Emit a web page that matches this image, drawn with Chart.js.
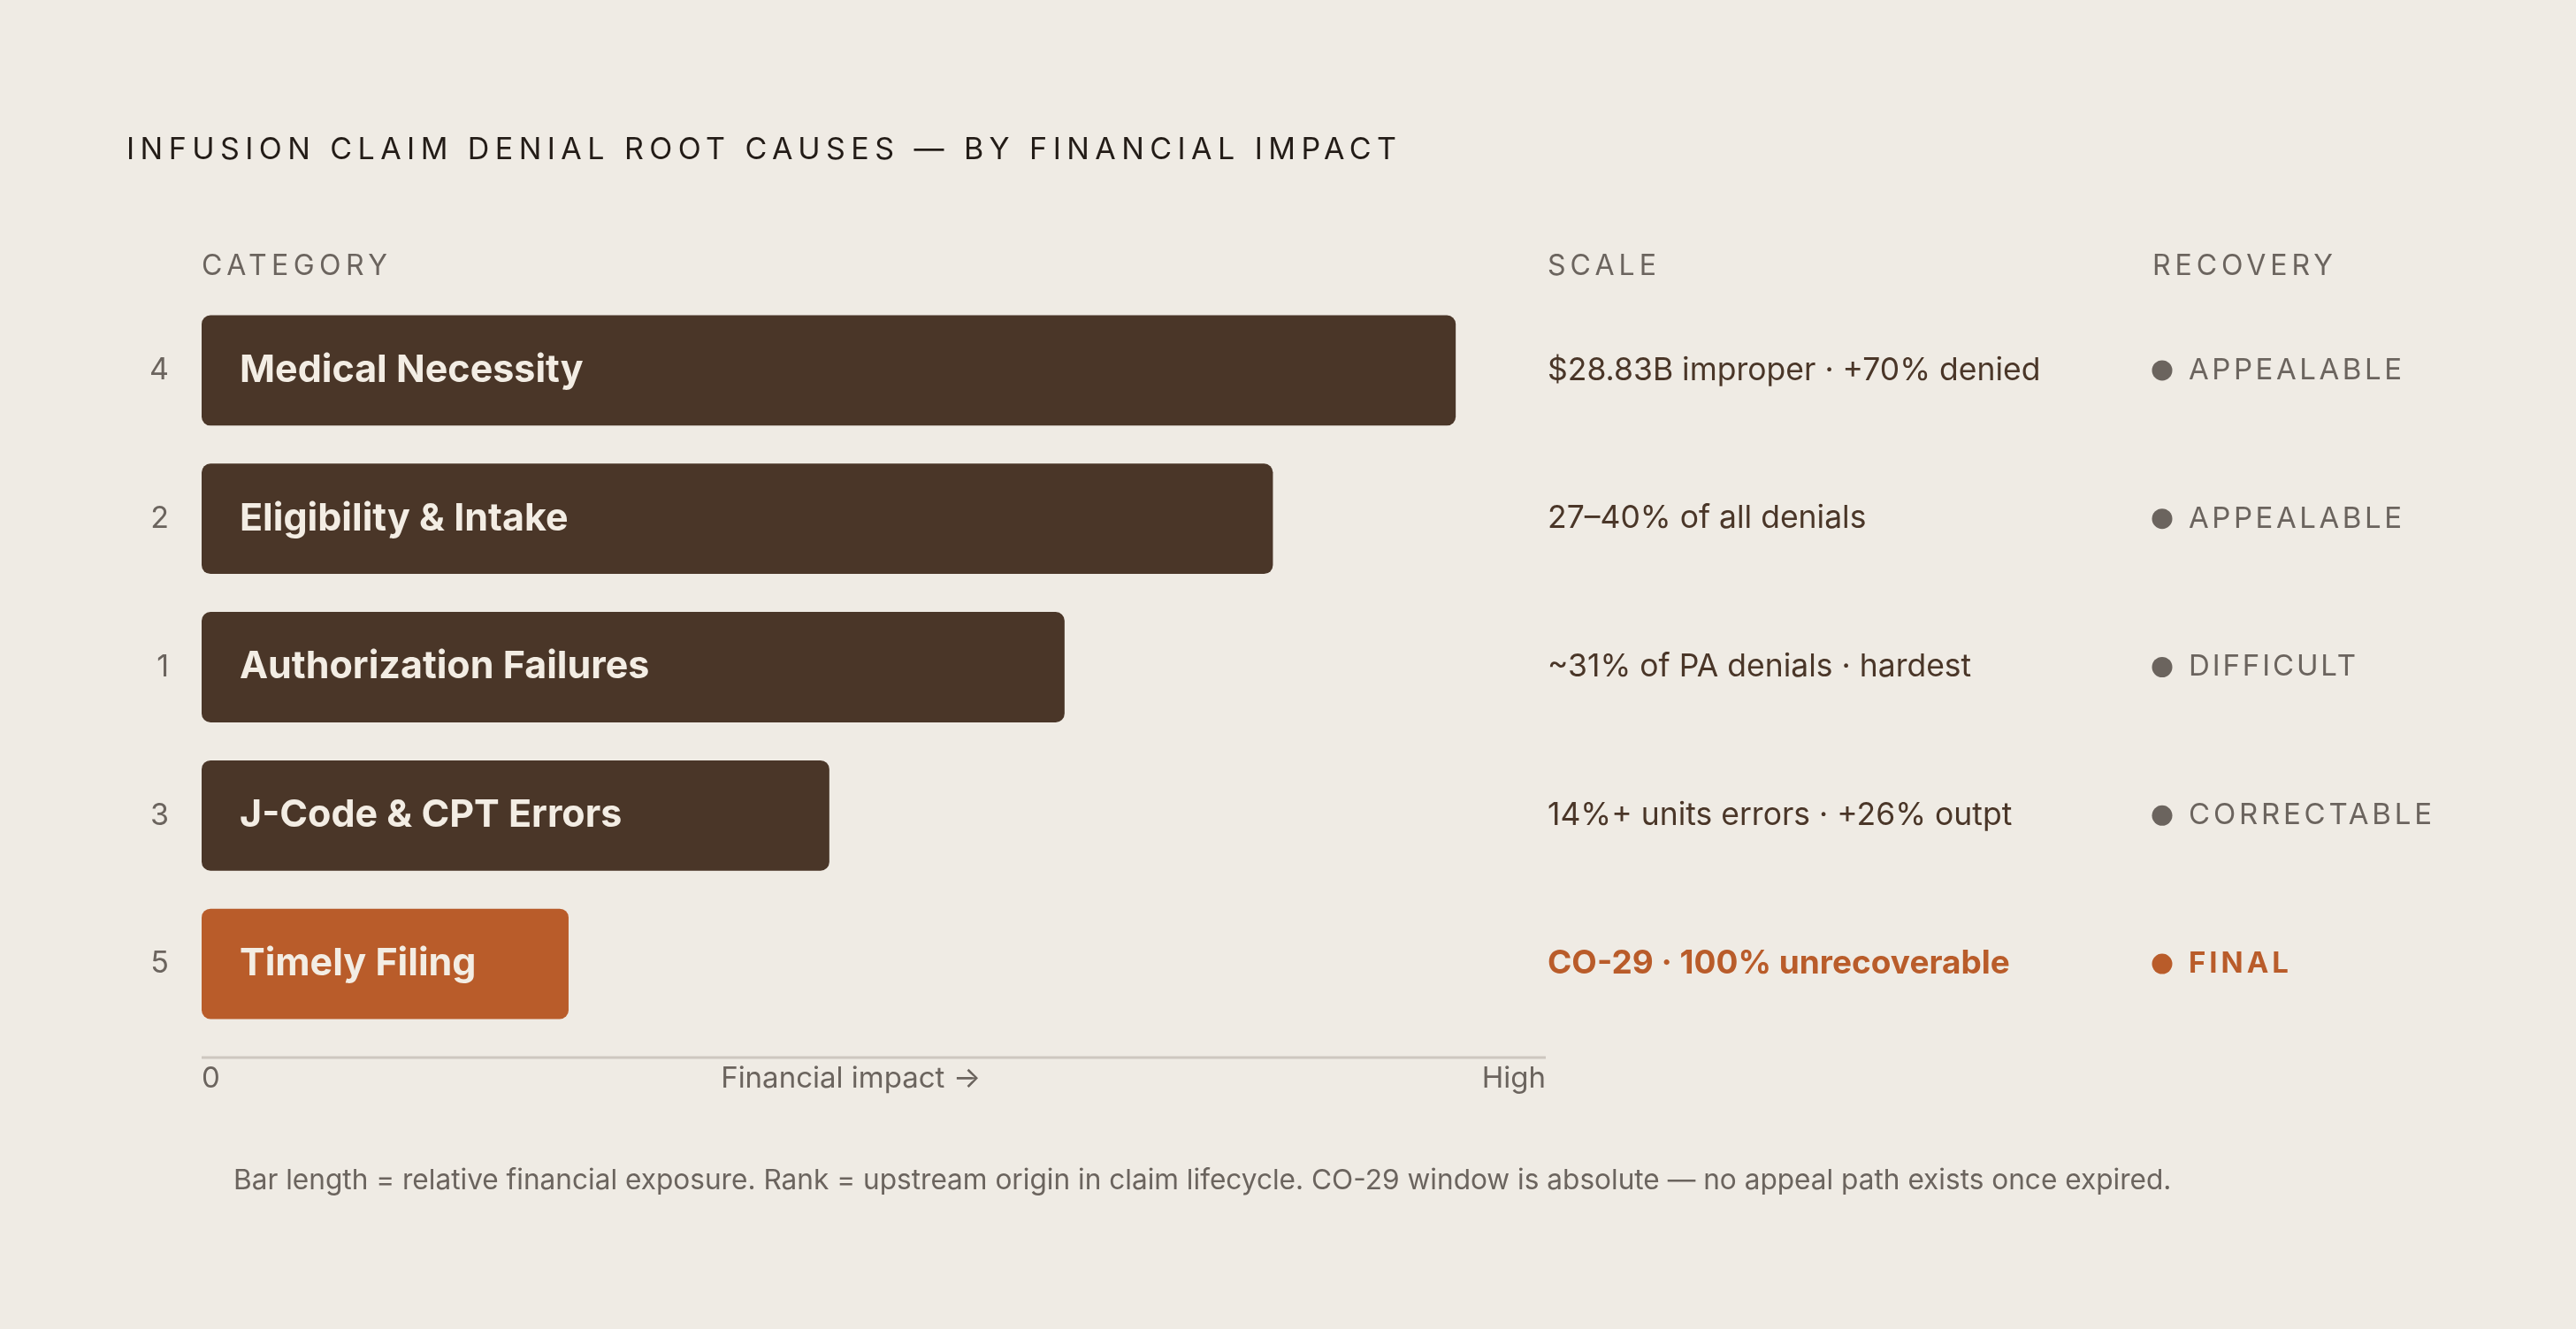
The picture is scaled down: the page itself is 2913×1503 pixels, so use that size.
<!DOCTYPE html>
<html>
<head>
<meta charset="utf-8">
<script src="https://cdn.jsdelivr.net/npm/chart.js@4.4.1/dist/chart.umd.min.js"></script>
<style>
  html, body { margin: 0; padding: 0; background: #efebe4; }
  canvas { display: block; background: #efebe4; }
</style>
</head>
<body>
<canvas id="c" width="2913" height="1503"></canvas>
<script>
// ---- data ----
const categories = ['Medical Necessity', 'Eligibility & Intake', 'Authorization Failures', 'J-Code & CPT Errors', 'Timely Filing'];
const ranks = [4, 2, 1, 3, 5];
const impact = [93.3, 79.7, 64.2, 46.7, 27.3];
const scaleNotes = ['$28.83B improper \u00b7 +70% denied', '27\u201340% of all denials', '~31% of PA denials \u00b7 hardest', '14%+ units errors \u00b7 +26% outpt', 'CO-29 \u00b7 100% unrecoverable'];
const recovery = ['APPEALABLE', 'APPEALABLE', 'DIFFICULT', 'CORRECTABLE', 'FINAL'];
const axisLabels = ['0', 'Financial impact \u2192', 'High'];
const titleText = 'INFUSION CLAIM DENIAL ROOT CAUSES \u2014 BY FINANCIAL IMPACT';
const headers = ['CATEGORY', 'SCALE', 'RECOVERY'];
const footnote = 'Bar length = relative financial exposure. Rank = upstream origin in claim lifecycle. CO-29 window is absolute \u2014 no appeal path exists once expired.';

const DARK = '#4a3628';
const ORANGE = '#b95c2a';
const GREY = '#6b645e';
const FONT = 'Inter, "Open Sans", sans-serif';

function isFinal(i) { return recovery[i] === 'FINAL'; }

function spaced(ctx, text, x, y, target) {
  ctx.letterSpacing = '0px';
  const w = ctx.measureText(text).width;
  const n = [...text].length;
  const sp = Math.max(0, (target - w) / Math.max(1, n - 1));
  ctx.letterSpacing = sp + 'px';
  ctx.fillText(text, x, y);
  ctx.letterSpacing = '0px';
}

const overlay = {
  id: 'overlay',
  afterDatasetsDraw(chart) {
    const ctx = chart.ctx;
    const xs = chart.scales.x, ys = chart.scales.y;
    const meta = chart.getDatasetMeta(0);
    ctx.save();
    ctx.textBaseline = 'middle';
    ctx.textAlign = 'left';

    // title
    ctx.fillStyle = '#231c17';
    ctx.font = '400 34px ' + FONT;
    spaced(ctx, titleText, 143, 170, 1436);

    // headers
    ctx.fillStyle = GREY;
    ctx.font = '400 32px ' + FONT;
    spaced(ctx, headers[0], 228, 301, 210);
    spaced(ctx, headers[1], 1750, 301, 123);
    spaced(ctx, headers[2], 2434, 301, 204);

    const recWidths = { 'APPEALABLE': 241, 'DIFFICULT': 189, 'CORRECTABLE': 275, 'FINAL': 113 };

    categories.forEach((cat, i) => {
      const y = ys.getPixelForValue(i);
      const bar = meta.data[i];
      // rank
      ctx.fillStyle = GREY;
      ctx.font = '400 34px ' + FONT;
      ctx.textAlign = 'right';
      ctx.fillText(String(ranks[i]), 191, y);
      // bar label
      ctx.textAlign = 'left';
      ctx.fillStyle = '#f3ede4';
      ctx.font = '700 43px ' + FONT;
      ctx.fillText(cat, bar.base + 43, y);
      // scale note
      ctx.fillStyle = isFinal(i) ? ORANGE : DARK;
      ctx.font = isFinal(i) ? '700 37px ' + FONT : '400 35.5px ' + FONT;
      ctx.fillText(scaleNotes[i], 1750, y);
      // recovery dot + label
      const col = isFinal(i) ? ORANGE : GREY;
      ctx.fillStyle = col;
      ctx.beginPath();
      ctx.arc(2445, y, 11.5, 0, Math.PI * 2);
      ctx.fill();
      ctx.font = (isFinal(i) ? '700 ' : '400 ') + '33px ' + FONT;
      spaced(ctx, recovery[i], 2475, y, recWidths[recovery[i]]);
    });

    // axis line
    const axisY = chart.chartArea.bottom + 22;
    ctx.strokeStyle = '#cdc7bf';
    ctx.lineWidth = 3;
    ctx.beginPath();
    ctx.moveTo(xs.left, axisY);
    ctx.lineTo(xs.right, axisY);
    ctx.stroke();

    ctx.fillStyle = GREY;
    ctx.font = '400 33px ' + FONT;
    const labY = axisY + 24;
    ctx.textAlign = 'left';
    ctx.fillText(axisLabels[0], xs.getPixelForValue(0), labY);
    ctx.textAlign = 'center';
    ctx.fillText(axisLabels[1], xs.getPixelForValue(48.3), labY);
    ctx.textAlign = 'right';
    ctx.fillText(axisLabels[2], xs.getPixelForValue(100), labY);

    // footnote
    ctx.textAlign = 'left';
    ctx.font = '400 31.6px ' + FONT;
    ctx.fillText(footnote, 264, 1335);
    ctx.restore();
  }
};

new Chart(document.getElementById('c'), {
  type: 'bar',
  data: {
    labels: categories,
    datasets: [{
      data: impact,
      backgroundColor: (c) => isFinal(c.dataIndex) ? ORANGE : DARK,
      borderRadius: 10,
      borderSkipped: false,
      categoryPercentage: 1,
      barPercentage: 0.744
    }]
  },
  options: {
    indexAxis: 'y',
    responsive: false,
    animation: false,
    devicePixelRatio: 1,
    layout: { padding: { left: 228, right: 1165, top: 335, bottom: 329 } },
    plugins: { legend: { display: false }, tooltip: { enabled: false }, title: { display: false } },
    scales: {
      x: { type: 'linear', min: 0, max: 100, display: false },
      y: { type: 'category', display: false }
    }
  },
  plugins: [overlay]
});
</script>
</body>
</html>
